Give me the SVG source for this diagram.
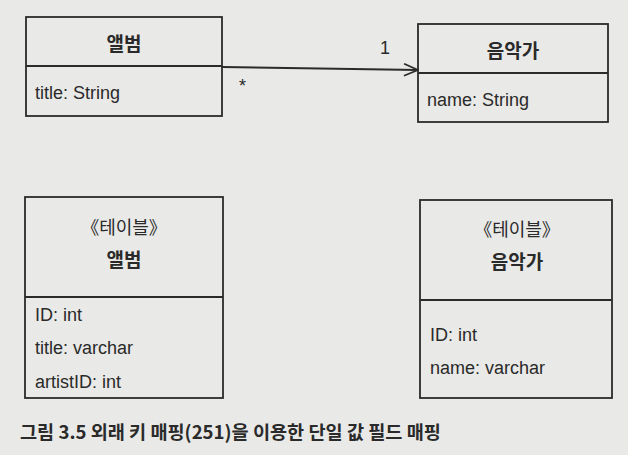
<svg xmlns="http://www.w3.org/2000/svg" width="628" height="455" viewBox="0 0 628 455">
<defs>
<style>
.box{fill:none;stroke:#2b2b2b;stroke-width:1.8}
.t{font-family:"Liberation Sans","Noto Sans CJK KR",sans-serif;font-size:18px;fill:#2a2a2a}
.k{font-family:"Noto Sans CJK KR",sans-serif;font-size:19px;font-weight:bold;fill:#2a2a2a;text-anchor:middle}
.s{font-family:"Noto Sans CJK KR",sans-serif;font-size:18px;fill:#2a2a2a;text-anchor:middle}
.cap{font-family:"Noto Sans CJK KR",sans-serif;font-size:18.6px;font-weight:bold;fill:#2a2a2a}
</style>
<marker id="open" markerWidth="16" markerHeight="14" refX="15" refY="7" orient="auto" markerUnits="userSpaceOnUse">
<path d="M1,1 L15,7 L1,13" fill="none" stroke="#2b2b2b" stroke-width="1.8"/>
</marker>
</defs>
<rect width="628" height="455" fill="#e9e9e7"/>
<g id="album-class">
<rect class="box" x="26" y="17" width="196" height="99"/>
<line class="box" x1="26" y1="66" x2="222" y2="66"/>
<text class="k" x="124" y="51">앨범</text>
<text class="t" x="35" y="99">title: String</text>
</g>
<g id="artist-class">
<rect class="box" x="418" y="24" width="190" height="98"/>
<line class="box" x1="418" y1="73" x2="608" y2="73"/>
<text class="k" x="513" y="58">음악가</text>
<text class="t" x="427" y="106">name: String</text>
</g>
<g id="album-table">
<rect class="box" x="25" y="197" width="198" height="201"/>
<line class="box" x1="25" y1="297" x2="223" y2="297"/>
<text class="s" x="124" y="234">《테이블》</text>
<text class="k" x="124" y="267">앨범</text>
<text class="t" x="35" y="321">ID: int</text>
<text class="t" x="35" y="354">title: varchar</text>
<text class="t" x="35" y="388">artistID: int</text>
</g>
<g id="artist-table">
<rect class="box" x="420" y="200" width="192" height="198"/>
<line class="box" x1="420" y1="300" x2="612" y2="300"/>
<text class="s" x="517" y="236">《테이블》</text>
<text class="k" x="517" y="269">음악가</text>
<text class="t" x="430" y="341">ID: int</text>
<text class="t" x="430" y="374">name: varchar</text>
</g>
<g id="connectors">
<line x1="222" y1="67" x2="418" y2="70" stroke="#2b2b2b" stroke-width="1.8" marker-end="url(#open)"/>
<text class="t" x="239" y="92">*</text>
<text class="t" x="380" y="54">1</text>
</g>
<text class="cap" x="20" y="439">그림 3.5 외래 키 매핑(251)을 이용한 단일 값 필드 매핑</text>
</svg>
